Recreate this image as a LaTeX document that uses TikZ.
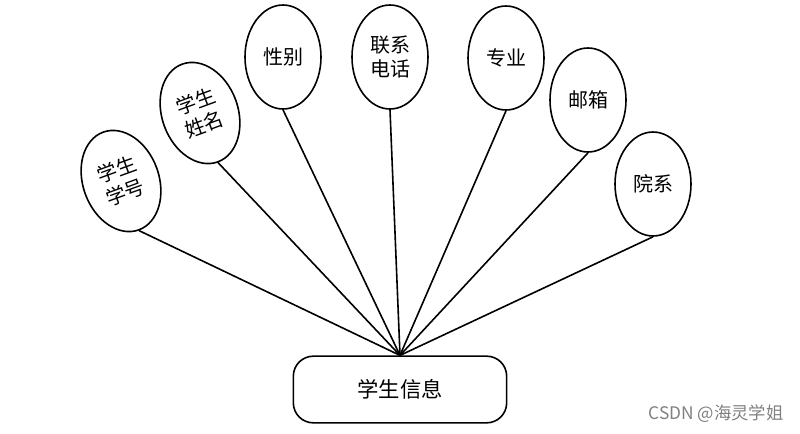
\documentclass[tikz,border=0pt]{standalone}
\usepackage{fontspec}
\newfontfamily\cjk{Noto Sans CJK SC}
\usetikzlibrary{shapes.geometric}
\tikzset{attr/.style={ellipse, draw, line width=1.2pt, minimum width=57pt, minimum height=78pt, inner sep=0pt, align=center, font=\cjk\fontsize{15}{18.5}\selectfont},
  link/.style={line width=1.2pt}}
\begin{document}
\begin{tikzpicture}[x=0.75pt, y=-0.75pt]
\useasboundingbox (0,0) rectangle (800,433);
\node[draw, line width=1.2pt, rounded corners=15pt, minimum width=160pt, minimum height=50pt, font=\cjk\fontsize{16}{19}\selectfont] (info) at (400,389.5) {学生信息};
\node[attr, rotate=20] (xuehao) at (121,181) {学生\\学号};
\node[attr, rotate=20] (xingming) at (200,113) {学生\\姓名};
\node[attr] (xingbie) at (283,57) {性别};
\node[attr] (dianhua) at (390,57) {联系\\电话};
\node[attr] (zhuanye) at (506,58) {专业};
\node[attr] (youxiang) at (588,100) {邮箱};
\node[attr] (yuanxi) at (653,184) {院系};
\draw[link] (xuehao.south) -- (info.north);
\draw[link] (xingming.south) -- (info.north);
\draw[link] (xingbie.south) -- (info.north);
\draw[link] (dianhua.south) -- (info.north);
\draw[link] (zhuanye.south) -- (info.north);
\draw[link] (youxiang.south) -- (info.north);
\draw[link] (yuanxi.south) -- (info.north);
\node[font=\cjk\fontsize{13}{15}\selectfont, text=gray] (mark) at (716,414) {CSDN @海灵学姐};
\end{tikzpicture}
\end{document}
